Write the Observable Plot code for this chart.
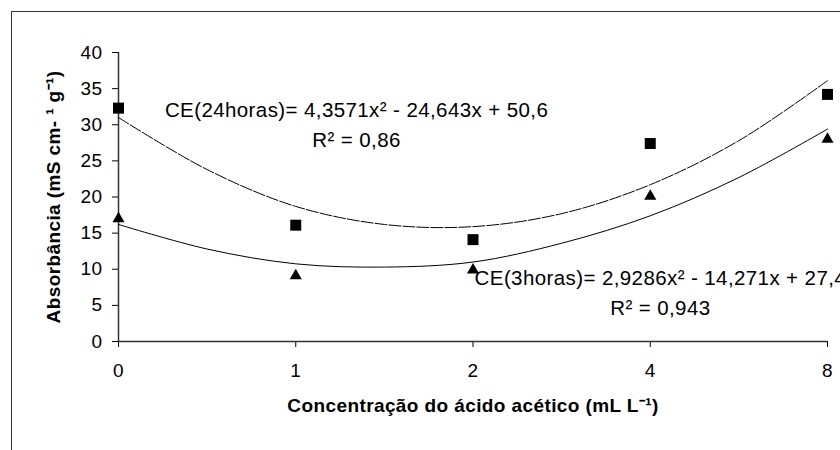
<!DOCTYPE html>
<html>
<head>
<meta charset="utf-8">
<script src="https://cdn.jsdelivr.net/npm/d3@7"></script>
<script src="https://cdn.jsdelivr.net/npm/@observablehq/plot@0.6"></script>
<style>
  html, body { margin: 0; padding: 0; background: #fff; }
  #wrap { position: relative; width: 840px; height: 450px; overflow: hidden; }
  #frame { position: absolute; left: 11px; top: 11px; width: 900px; height: 500px;
           border-left: 1.5px solid #333; border-top: 1.5px solid #333; pointer-events: none; }
  #chart { position: absolute; left: 0; top: 0; }
</style>
</head>
<body>
<div id="wrap"><div id="chart"></div><div id="frame"></div></div>
<script>
// Categories on the x axis (acetic acid concentration, mL L-1)
const categories = ["0", "1", "2", "4", "8"];
// Measured points
const ce24h = [32.3, 16.1, 14.1, 27.4, 34.2];
const ce3h = [17.0, 9.1, 9.9, 20.1, 28.0];
// Trendline at half-category steps (category index)
const trendPos = [0, 0.5, 1, 1.5, 2, 2.5, 3, 3.5, 4];
const trend24h = [31.0, 23.8, 18.7, 16.2, 15.9, 17.7, 21.7, 27.8, 36.1];
const trend3h = [16.2, 12.8, 10.75, 10.3, 11.0, 13.6, 17.4, 22.7, 29.4];
// Tick values
const yTicks = [0, 5, 10, 15, 20, 25, 30, 35, 40];
// Annotations
const eq24 = "CE(24horas)= 4,3571x² - 24,643x + 50,6";
const r24 = "R² = 0,86";
const eq3 = "CE(3horas)= 2,9286x² - 14,271x + 27,4";
const r3 = "R² = 0,943";
const yLabel = "Absorbância (mS cm- ¹ g⁻¹)";
const xLabel = "Concentração do ácido acético (mL L⁻¹)";

const pts24 = categories.map((c, i) => ({i, v: ce24h[i]}));
const pts3 = categories.map((c, i) => ({i, v: ce3h[i]}));
const tr24 = trendPos.map((p, k) => ({p, v: trend24h[k]}));
const tr3 = trendPos.map((p, k) => ({p, v: trend3h[k]}));

const font = "Arial, 'Liberation Sans', sans-serif";

const chart = Plot.plot({
  width: 840,
  height: 450,
  marginLeft: 118,
  marginRight: 13,
  marginTop: 52,
  marginBottom: 109,
  style: {fontFamily: font, fontSize: "19px", color: "#000", background: "transparent", overflow: "hidden", letterSpacing: "0.4px"},
  x: {type: "linear", domain: [0, categories.length - 1]},
  y: {domain: [0, 40]},
  marks: [
    Plot.axisX({ticks: categories.map((c, i) => i), tickFormat: i => categories[i], tickSize: 6, tickPadding: 16, label: null, fontSize: 19}),
    Plot.axisY({ticks: yTicks, tickSize: 6, tickPadding: 10, label: null, fontSize: 19}),
    Plot.ruleY([0], {stroke: "#333", strokeWidth: 1.5}),
    Plot.ruleX([0], {stroke: "#333", strokeWidth: 1.5}),
    Plot.line(tr24, {x: "p", y: "v", curve: "catmull-rom", stroke: "#000", strokeWidth: 1, strokeDasharray: "12,2"}),
    Plot.line(tr3, {x: "p", y: "v", curve: "catmull-rom", stroke: "#000", strokeWidth: 1}),
    Plot.dot(pts24, {x: "i", y: "v", symbol: "square", r: 6.2, fill: "#000", stroke: null}),
    Plot.dot(pts3, {x: "i", y: "v", symbol: "triangle", r: 4.5, fill: "#000", stroke: null}),
    Plot.text([eq24], {x: 1.343, y: 31.1, text: d => d, fontSize: 20.5, lineAnchor: "bottom", fill: "#000"}),
    Plot.text([r24], {x: 1.343, y: 26.9, text: d => d, fontSize: 20.5, lineAnchor: "bottom", fill: "#000"}),
    Plot.text([eq3], {x: 3.057, y: 7.8, text: d => d, fontSize: 20.5, lineAnchor: "bottom", fill: "#000"}),
    Plot.text([r3], {x: 3.057, y: 3.6, text: d => d, fontSize: 20.5, lineAnchor: "bottom", fill: "#000"}),
    Plot.text([yLabel], {frameAnchor: "left", dx: -65, rotate: -90, textAnchor: "middle", text: d => d, fontSize: 19, fontWeight: "bold", fill: "#000"}),
    Plot.text([xLabel], {frameAnchor: "bottom", dy: 70, text: d => d, fontSize: 19, fontWeight: "bold", fill: "#000"})
  ]
});
document.getElementById("chart").appendChild(chart);
</script>
</body>
</html>
